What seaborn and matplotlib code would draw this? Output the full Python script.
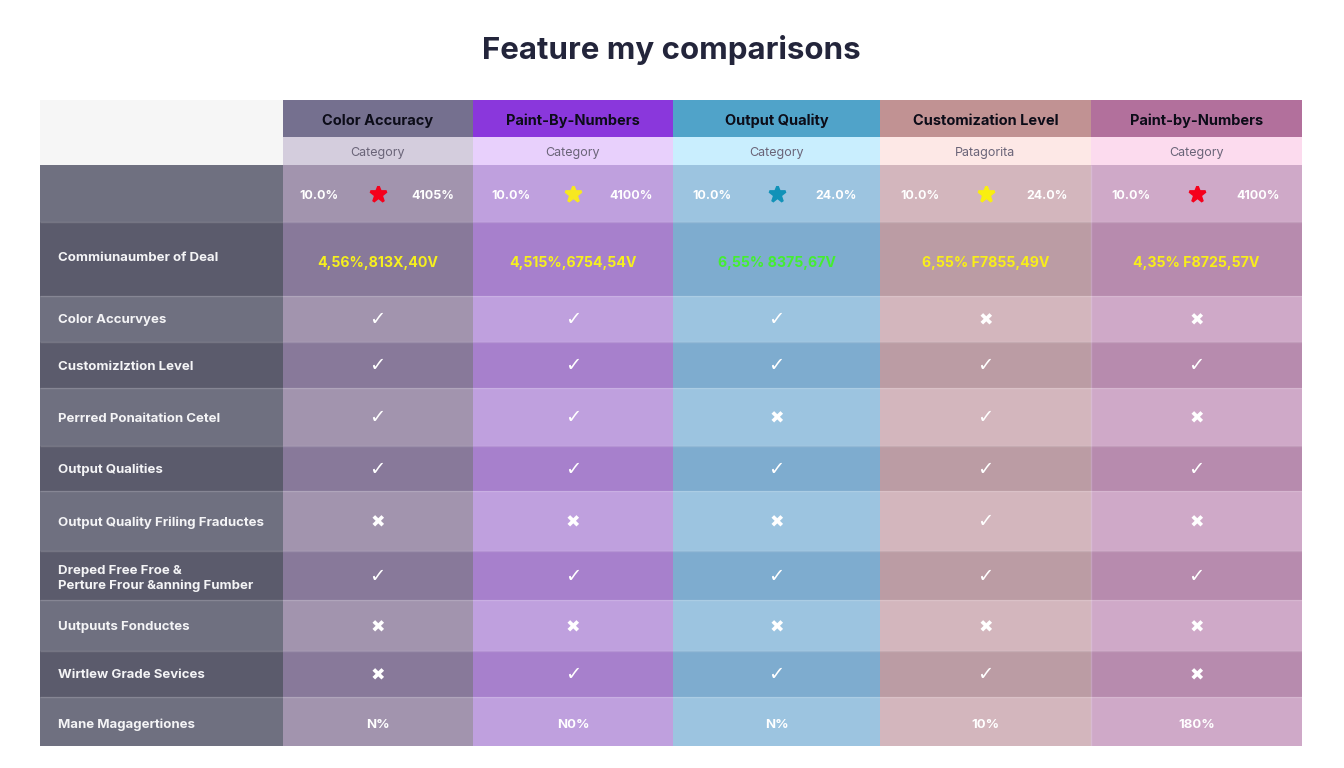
# comparison table drawn as a seaborn heatmap, row/col sizes come from a piecewise scale

import numpy as np
import matplotlib
matplotlib.use('Agg')
import matplotlib.pyplot as plt
import seaborn as sns
from matplotlib.colors import ListedColormap

### Data ###

title = 'Feature my comparisons'
columns = ['Color Accuracy', 'Paint-By-Numbers', 'Output Quality', 'Customization Level', 'Paint-by-Numbers']
categories = ['Category', 'Category', 'Category', 'Patagorita', 'Category']
low_pct = ['10.0%', '10.0%', '10.0%', '10.0%', '10.0%']
high_pct = ['4105%', '4100%', '24.0%', '24.0%', '4100%']
star_colors = ['#f5001c', '#f7e820', '#1192b8', '#f9ee10', '#f5001c']
deal_label = 'Commiunaumber of Deal'
deal_values = ['4,56%,813X,40V', '4,515%,6754,54V', '6,55% 8375,67V', '6,55% F7855,49V', '4,35% F8725,57V']
deal_colors = ['#f6f01e', '#f6f01e', '#44ee30', '#f8ee1a', '#f8ee1a']

row_labels = ['Color Accurvyes', 'Customizlztion Level', 'Perrred Ponaitation Cetel', 'Output Qualities',
              'Output Quality Friling Fraductes', 'Dreped Free Froe &\nPerture Frour &anning Fumber',
              'Uutpuuts Fonductes', 'Wirtlew Grade Sevices']
marks = [['y', 'y', 'y', 'n', 'n'],
         ['y', 'y', 'y', 'y', 'y'],
         ['y', 'y', 'n', 'y', 'n'],
         ['y', 'y', 'y', 'y', 'y'],
         ['n', 'n', 'n', 'y', 'n'],
         ['y', 'y', 'y', 'y', 'y'],
         ['n', 'n', 'n', 'n', 'n'],
         ['n', 'y', 'y', 'y', 'n']]
last_label = 'Mane Magagertiones'
last_values = ['N%', 'N0%', 'N%', '10%', '180%']

# header, category, light row, dark row for every column
palette = ['#f6f6f6', '#f6f6f6', '#6f7080', '#5b5b6c',
           '#75708f', '#d4cddd', '#a294ae', '#88799a',
           '#8a37dc', '#e8d0fc', '#bfa0de', '#a780cc',
           '#50a3c9', '#c9eefe', '#9cc4e0', '#7eaccf',
           '#c19293', '#fde8e6', '#d3b6bd', '#bb9ca4',
           '#b2709c', '#fcdbee', '#cfa9c8', '#b78bae']
row_kinds = [0, 1, 2, 3, 2, 3, 2, 3, 2, 3, 2, 3, 2]

# edges of rows and columns in pixels
col_px = [40, 282.5, 473, 673, 880, 1091, 1302]
row_px = [100, 137, 165, 222, 296, 342, 388, 446, 491, 551, 600, 651, 697, 746]

### Plot ###

sns.set_theme(style='white')
plt.rcParams['font.family'] = ['Inter', 'DejaVu Sans']

fig = plt.figure(figsize=(13.44, 7.68), dpi=100)
ax = fig.add_axes([col_px[0]/1344, 1-row_px[-1]/768, (col_px[-1]-col_px[0])/1344, (row_px[-1]-row_px[0])/768])

cells = np.array([[c*4 + k for c in range(6)] for k in row_kinds])
sns.heatmap(cells, ax=ax, cmap=ListedColormap(palette), vmin=-0.5, vmax=23.5, cbar=False,
            xticklabels=False, yticklabels=False, linewidths=0)

col_idx = np.arange(len(col_px))
row_idx = np.arange(len(row_px))
ax.set_xscale('function', functions=(lambda v: np.interp(v, col_idx, col_px), lambda v: np.interp(v, col_px, col_idx)))
ax.set_yscale('function', functions=(lambda v: np.interp(v, row_idx, row_px), lambda v: np.interp(v, row_px, row_idx)))
ax.set_xlim(0, 6)
ax.set_ylim(13, 0)
ax.tick_params(left=False, bottom=False, which='both', labelleft=False, labelbottom=False)
sns.despine(ax=ax, left=True, bottom=True)

# faint separators between the body rows
ax.hlines(row_idx[3:-1], 0, 6, color='white', alpha=0.16, lw=1)
ax.vlines(5, 2, 13, color='white', alpha=0.2, lw=1)

fig.text(671/1344, 1-47/768, title, ha='center', va='center_baseline', fontsize=22.5, fontweight='bold', color='#23253b')

txt = dict(ha='center', va='center_baseline')
for i in range(5):
    x = i + 1.5
    ax.text(x, 0.52, columns[i], fontsize=10.5, fontweight='bold', color='#0c0c18', **txt)
    ax.text(x, 1.52, categories[i], fontsize=9, color='#6a6478', **txt)
    ax.text(i + 1.19, 2.51, low_pct[i], fontsize=9, fontweight='bold', color='white', **txt)
    ax.text(i + 1.79, 2.51, high_pct[i], fontsize=9, fontweight='bold', color='white', **txt)
    ax.plot([x], [2.5], marker='*', ms=12, mew=2, color=star_colors[i], mec=star_colors[i], ls='none')
    ax.text(x, 3.54, deal_values[i], fontsize=10.2, fontweight='bold', color=deal_colors[i], **txt)
    ax.text(x, 12.54, last_values[i], fontsize=9.5, fontweight='bold', color='white', **txt)
    for r, row in enumerate(marks):
        if row[i] == 'y':
            ax.text(x, r + 4.47, '\u2713', fontsize=14, fontweight='bold', color='white', family='DejaVu Sans', **txt)
        else:
            ax.text(x, r + 4.5, '\u2716', fontsize=12.5, color='white', family='DejaVu Sans', **txt)

label = dict(ha='left', va='center_baseline', fontsize=9.5, fontweight='bold', color='#f4f4f6')
ax.text(0.074, 3.47, deal_label, **label)
for r, name in enumerate(row_labels):
    ax.text(0.074, r + 4.5, name, linespacing=1.25, **label)
ax.text(0.074, 12.54, last_label, **label)

fig.savefig('out.png', dpi=100)
